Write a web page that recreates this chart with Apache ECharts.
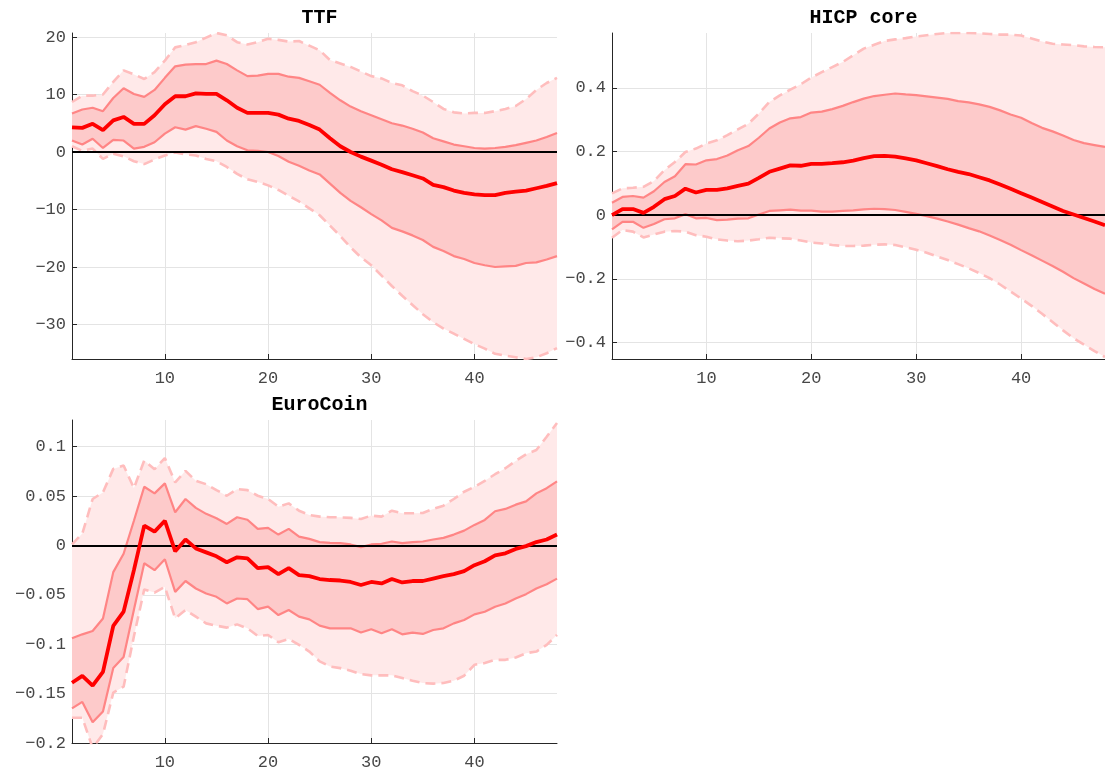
<!DOCTYPE html>
<html>
<head>
<meta charset="utf-8">
<title>Impulse responses</title>
<script src="https://cdn.jsdelivr.net/npm/echarts@6/dist/echarts.min.js"></script>
<style>
  html, body { margin: 0; padding: 0; background: #ffffff; }
  #chart { width: 1105px; height: 771px; }
</style>
</head>
<body>
<div id="chart"></div>
<script>
// Horizon (months after the shock)
const horizon = [1,2,3,4,5,6,7,8,9,10,11,12,13,14,15,16,17,18,19,20,21,22,23,24,
                 25,26,27,28,29,30,31,32,33,34,35,36,37,38,39,40,41,42,43,44,45,46,47,48];

const panelTitles = ['TTF', 'HICP core', 'EuroCoin'];
const xTicks = [10, 20, 30, 40];

// TTF: median response with 68% and 90% credible bands
const ttfMedian = [4.3,4.2,4.9,3.8,5.5,6.1,4.9,4.9,6.4,8.3,9.7,9.7,10.2,10.1,10.1,9.0,7.7,6.8,6.8,6.8,
                   6.5,5.8,5.4,4.7,3.9,2.4,1.0,0.0,-0.8,-1.5,-2.2,-3.0,-3.5,-4.05,-4.6,-5.7,-6.1,-6.7,-7.1,-7.35,
                   -7.5,-7.5,-7.1,-6.9,-6.7,-6.3,-5.9,-5.4];
const ttfHi68 = [6.7,7.4,7.7,7.1,9.4,11.1,10.1,9.6,10.8,12.9,14.9,15.2,15.3,15.3,15.9,15.3,14.2,13.2,13.3,13.6,
                 13.6,13.1,12.9,12.3,11.7,10.3,9.0,7.9,7.1,6.4,5.7,5.0,4.6,4.05,3.4,2.4,1.85,1.3,1.0,0.7,
                 0.6,0.7,0.9,1.2,1.6,2.0,2.6,3.3];
const ttfLo68 = [2.0,1.3,2.3,0.7,2.1,2.0,0.6,0.9,1.7,3.2,4.3,3.9,4.5,4.05,3.5,2.0,1.0,0.3,0.2,0.0,
                 -0.7,-1.7,-2.4,-3.2,-3.9,-5.5,-7.1,-8.5,-9.6,-10.8,-11.9,-13.2,-13.8,-14.5,-15.3,-16.5,-17.2,-18.1,-18.6,-19.3,
                 -19.7,-20.0,-19.9,-19.8,-19.3,-19.2,-18.7,-18.1];
const ttfHi90 = [8.7,9.8,9.8,10.0,12.2,14.2,13.5,12.7,13.9,15.9,18.2,18.6,19.1,19.9,20.7,20.3,19.1,18.7,19.1,19.7,
                 19.5,19.2,19.3,18.5,17.7,16.0,15.4,14.8,14.0,13.2,12.8,12.0,11.6,10.6,9.8,8.7,7.5,6.9,6.7,6.8,
                 6.8,7.1,7.5,8.0,9.2,10.8,12.0,12.9];
const ttfLo90 = [1.0,0.2,0.6,-1.2,-0.3,-0.75,-1.6,-2.1,-1.3,-0.6,-0.1,-0.4,-0.6,-1.2,-1.6,-2.6,-3.8,-4.75,-5.2,-5.8,
                 -6.6,-7.6,-8.6,-9.8,-11.0,-12.8,-14.6,-16.6,-18.3,-19.7,-21.5,-23.3,-25.0,-26.6,-28.2,-29.6,-30.7,-31.6,-32.5,-33.4,
                 -34.2,-35.1,-35.4,-35.7,-36.0,-35.7,-35.0,-34.1];
const ttfYTicks = [-30, -20, -10, 0, 10, 20];

// HICP core
const hicpMedian = [0.000,0.019,0.019,0.007,0.026,0.050,0.060,0.083,0.071,0.079,0.079,0.084,0.092,0.099,0.117,0.136,
                    0.146,0.156,0.155,0.161,0.161,0.163,0.166,0.171,0.179,0.185,0.186,0.184,0.178,0.172,0.163,0.154,
                    0.144,0.136,0.129,0.119,0.109,0.096,0.083,0.069,0.055,0.041,0.027,0.013,0.002,-0.009,-0.020,-0.032];
const hicpHi68 = [0.039,0.057,0.060,0.055,0.075,0.104,0.122,0.160,0.159,0.172,0.176,0.187,0.204,0.217,0.243,0.272,
                  0.291,0.304,0.308,0.322,0.325,0.333,0.343,0.355,0.366,0.374,0.378,0.382,0.379,0.377,0.373,0.369,
                  0.365,0.358,0.354,0.348,0.340,0.329,0.316,0.306,0.289,0.274,0.263,0.250,0.236,0.226,0.220,0.214];
const hicpLo68 = [-0.045,-0.021,-0.021,-0.040,-0.028,-0.013,-0.010,0.003,-0.010,-0.009,-0.016,-0.014,-0.011,-0.010,0.002,0.013,
                  0.015,0.017,0.014,0.014,0.011,0.011,0.013,0.015,0.018,0.020,0.019,0.016,0.010,0.004,-0.003,-0.011,
                  -0.020,-0.030,-0.041,-0.051,-0.064,-0.078,-0.093,-0.110,-0.126,-0.143,-0.160,-0.178,-0.198,-0.215,-0.232,-0.247];
const hicpHi90 = [0.068,0.084,0.086,0.089,0.107,0.141,0.167,0.198,0.209,0.225,0.235,0.251,0.269,0.287,0.319,0.355,
                  0.376,0.394,0.411,0.432,0.449,0.465,0.481,0.502,0.523,0.535,0.547,0.552,0.556,0.561,0.565,0.569,
                  0.572,0.572,0.572,0.571,0.569,0.567,0.567,0.564,0.555,0.545,0.538,0.536,0.534,0.530,0.528,0.527];
const hicpLo90 = [-0.071,-0.047,-0.052,-0.070,-0.061,-0.052,-0.050,-0.052,-0.063,-0.068,-0.076,-0.080,-0.082,-0.080,-0.076,-0.071,
                  -0.073,-0.074,-0.080,-0.086,-0.089,-0.094,-0.097,-0.097,-0.096,-0.093,-0.092,-0.094,-0.101,-0.109,-0.118,-0.130,
                  -0.141,-0.154,-0.167,-0.182,-0.198,-0.218,-0.240,-0.262,-0.285,-0.310,-0.336,-0.362,-0.387,-0.407,-0.427,-0.446];
const hicpYTicks = [-0.4, -0.2, 0, 0.2, 0.4];

// EuroCoin
const euroMedian = [-0.139,-0.132,-0.142,-0.128,-0.0815,-0.067,-0.025,0.020,0.014,0.025,-0.006,0.006,-0.003,-0.007,-0.011,-0.017,
                    -0.012,-0.013,-0.023,-0.022,-0.029,-0.023,-0.030,-0.031,-0.034,-0.035,-0.0355,-0.037,-0.040,-0.037,-0.0385,-0.034,
                    -0.0375,-0.036,-0.036,-0.0335,-0.031,-0.029,-0.026,-0.020,-0.016,-0.010,-0.008,-0.0035,-0.0007,0.0034,0.006,0.011];
const euroHi68 = [-0.094,-0.090,-0.0866,-0.074,-0.027,-0.0084,0.025,0.0594,0.0527,0.0628,0.0336,0.047,0.038,0.032,0.0275,0.0218,
                  0.0285,0.026,0.0168,0.0178,0.011,0.0168,0.009,0.0067,0.0034,0.0027,0.0023,0.001,-0.0017,0.001,0.0017,0.004,
                  0.0023,0.0034,0.004,0.006,0.0077,0.011,0.015,0.0208,0.0258,0.0346,0.037,0.0413,0.0446,0.0527,0.058,0.0648];
const euroLo68 = [-0.165,-0.1584,-0.179,-0.168,-0.124,-0.113,-0.065,-0.018,-0.025,-0.014,-0.047,-0.036,-0.0436,-0.0487,-0.052,-0.0587,
                  -0.0537,-0.0544,-0.0644,-0.062,-0.0705,-0.0654,-0.0721,-0.0748,-0.0812,-0.0839,-0.0839,-0.0839,-0.0882,-0.0849,-0.0889,-0.0849,
                  -0.090,-0.0882,-0.0896,-0.0856,-0.0839,-0.0789,-0.0755,-0.0698,-0.0671,-0.062,-0.0587,-0.0537,-0.0493,-0.0436,-0.0393,-0.0336];
const euroHi90 = [0.001,0.012,0.047,0.0537,0.0775,0.081,0.058,0.086,0.0772,0.0885,0.0638,0.0755,0.0654,0.062,0.056,0.0503,
                  0.057,0.056,0.0503,0.047,0.0393,0.0426,0.0352,0.0309,0.0292,0.0285,0.0285,0.0279,0.0268,0.0302,0.0292,0.0352,
                  0.0326,0.0326,0.0329,0.037,0.0403,0.047,0.0544,0.0594,0.0654,0.0721,0.0782,0.0856,0.0923,0.0966,0.110,0.124];
const euroLo90 = [-0.1745,-0.1745,-0.205,-0.191,-0.149,-0.143,-0.092,-0.0445,-0.0477,-0.042,-0.0738,-0.0654,-0.0721,-0.0789,-0.0812,-0.0832,
                  -0.0799,-0.0839,-0.0916,-0.0906,-0.098,-0.0946,-0.1007,-0.1074,-0.1174,-0.1225,-0.1242,-0.1268,-0.1302,-0.1315,-0.1315,-0.1315,
                  -0.1342,-0.1369,-0.1393,-0.1399,-0.1393,-0.1369,-0.1319,-0.1208,-0.1191,-0.1158,-0.1158,-0.1134,-0.1091,-0.1074,-0.1007,-0.0906];
const euroYTicks = [-0.2, -0.15, -0.1, -0.05, 0, 0.05, 0.1];

// Colours
const OUTER_FILL = '#ffe9e9';
const INNER_FILL = '#fdcaca';
const OUTER_LINE = '#ffbdbd';
const INNER_LINE = '#ff8585';
const MEDIAN_LINE = '#ff0000';
const AXIS_INK = '#262626';
const LABEL_INK = '#474747';
const GRID_INK = '#e4e4e4';
const MONO = '"Liberation Mono", "DejaVu Sans Mono", monospace';

const panels = [
  { title: panelTitles[0], med: ttfMedian, lo68: ttfLo68, hi68: ttfHi68, lo90: ttfLo90, hi90: ttfHi90,
    yTicks: ttfYTicks, yMin: -36.0, yMax: 20.7, grid: { left: 72, top: 33, width: 485, height: 326 } },
  { title: panelTitles[1], med: hicpMedian, lo68: hicpLo68, hi68: hicpHi68, lo90: hicpLo90, hi90: hicpHi90,
    yTicks: hicpYTicks, yMin: -0.452, yMax: 0.572, grid: { left: 612, top: 33, width: 493, height: 326 } },
  { title: panelTitles[2], med: euroMedian, lo68: euroLo68, hi68: euroHi68, lo90: euroLo90, hi90: euroHi90,
    yTicks: euroYTicks, yMin: -0.2, yMax: 0.127, grid: { left: 72, top: 420, width: 485, height: 326 } }
];

const fmt = v => String(v).replace('-', '\u2212');
const pairs = arr => horizon.map((h, i) => [h, arr[i]]);

// Shaded band between two bounds, drawn as one polygon through the axis scales
function bandSeries(k, lo, hi, color, z) {
  return {
    type: 'custom', xAxisIndex: k, yAxisIndex: k, silent: true, animation: false, z: z,
    data: [[horizon[0], lo[0]]],
    renderItem: function (params, api) {
      const upper = horizon.map((h, i) => api.coord([h, hi[i]]));
      const lower = horizon.map((h, i) => api.coord([h, lo[i]])).reverse();
      const cs = params.coordSys;
      return {
        type: 'polygon',
        shape: { points: upper.concat(lower) },
        style: { fill: color, stroke: null },
        clipPath: { type: 'rect', shape: { x: cs.x, y: cs.y, width: cs.width, height: cs.height } }
      };
    }
  };
}

const grids = [], xAxes = [], yAxes = [], titles = [], series = [];

panels.forEach((p, k) => {
  grids.push(Object.assign({ containLabel: false }, p.grid));

  titles.push({
    text: p.title,
    left: p.grid.left + p.grid.width / 2,
    top: p.grid.top - 30,
    textAlign: 'center',
    textStyle: { fontFamily: MONO, fontWeight: 'bold', fontSize: 20, color: '#000' }
  });

  xAxes.push({
    type: 'value', gridIndex: k, min: 1, max: 48,
    axisLine: { show: true, onZero: false, lineStyle: { color: AXIS_INK, width: 1 } },
    axisTick: { show: true, inside: true, length: 5, customValues: xTicks, lineStyle: { color: AXIS_INK } },
    axisLabel: { show: true, customValues: xTicks, margin: 11, fontFamily: MONO, fontSize: 17, color: LABEL_INK, formatter: fmt },
    splitLine: { show: true, lineStyle: { color: GRID_INK, width: 1 } }
  });

  yAxes.push({
    type: 'value', gridIndex: k, min: p.yMin, max: p.yMax,
    axisLine: { show: true, onZero: false, lineStyle: { color: AXIS_INK, width: 1 } },
    axisTick: { show: true, inside: true, length: 5, customValues: p.yTicks, lineStyle: { color: AXIS_INK } },
    axisLabel: { show: true, customValues: p.yTicks, margin: 6, fontFamily: MONO, fontSize: 17, color: LABEL_INK, formatter: fmt },
    splitLine: { show: true, lineStyle: { color: GRID_INK, width: 1 } }
  });

  const base = { type: 'line', xAxisIndex: k, yAxisIndex: k, symbol: 'none', silent: true, animation: false, clip: true };

  series.push(bandSeries(k, p.lo90, p.hi90, OUTER_FILL, 1));
  series.push(bandSeries(k, p.lo68, p.hi68, INNER_FILL, 2));
  [p.lo90, p.hi90].forEach(arr => series.push(Object.assign({}, base, {
    data: pairs(arr), z: 3, lineStyle: { color: OUTER_LINE, width: 2.6, type: [10, 6] } })));
  [p.lo68, p.hi68].forEach(arr => series.push(Object.assign({}, base, {
    data: pairs(arr), z: 4, lineStyle: { color: INNER_LINE, width: 2.2 } })));
  series.push(Object.assign({}, base, {
    data: pairs(p.med), z: 5, lineStyle: { color: MEDIAN_LINE, width: 3.8 },
    markLine: { silent: true, symbol: ['none', 'none'], animation: false, label: { show: false },
      lineStyle: { color: '#000000', width: 2, type: 'solid' }, data: [{ yAxis: 0 }] }
  }));
});

const chart = echarts.init(document.getElementById('chart'), null, { renderer: 'canvas' });
chart.setOption({
  backgroundColor: '#ffffff',
  animation: false,
  title: titles,
  grid: grids,
  xAxis: xAxes,
  yAxis: yAxes,
  series: series
});
</script>
</body>
</html>
